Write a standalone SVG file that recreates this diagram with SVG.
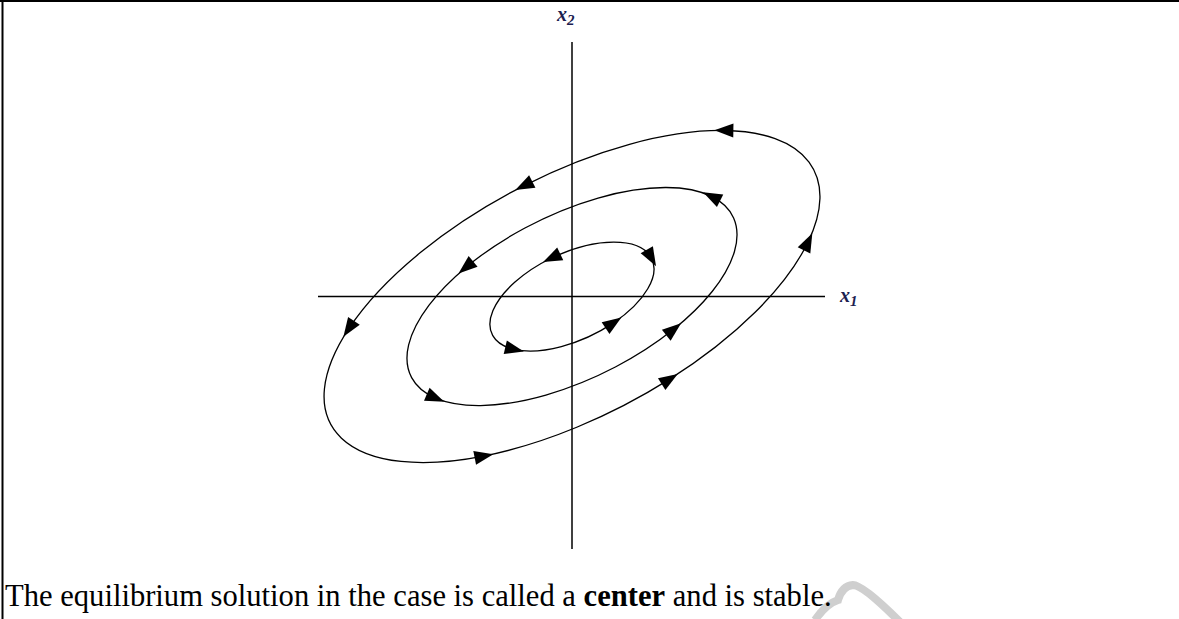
<svg xmlns="http://www.w3.org/2000/svg" width="1179" height="619" viewBox="0 0 1179 619">
<style>
.orbit{fill:none;stroke:#000;stroke-width:1.3}
.axis{stroke:#000;stroke-width:1.5}
.lab{font-family:"Liberation Serif",serif;font-style:italic;font-weight:bold;font-size:20px;fill:#1c2150}
.sub{font-size:15px}
.cap{font-family:"Liberation Serif",serif;font-size:30.6px;fill:#000}
</style>
<defs>
<marker id="arr" markerUnits="userSpaceOnUse" markerWidth="20" markerHeight="14" refX="0" refY="0" orient="auto" overflow="visible">
<path d="M10,0 L-9,-7 L-9,7 Z" fill="#000"/>
</marker>
<marker id="arrRev" markerUnits="userSpaceOnUse" markerWidth="20" markerHeight="14" refX="0" refY="0" orient="auto" overflow="visible">
<path d="M-10,0 L9,-7 L9,7 Z" fill="#000"/>
</marker>
</defs>
<rect width="1179" height="619" fill="#fff"/>
<g id="frame">
<line x1="0" y1="1" x2="1179" y2="1" stroke="#000" stroke-width="2"/>
<line x1="2.5" y1="0" x2="2.5" y2="619" stroke="#000" stroke-width="2"/>
</g>
<g id="axes">
<line class="axis" x1="572" y1="42" x2="572" y2="549"/>
<line class="axis" x1="318" y1="296.5" x2="825" y2="296.5"/>
</g>
<g id="labels">
<text class="lab" x="557" y="21">x<tspan class="sub" dy="4">2</tspan></text>
<text class="lab" x="840" y="302">x<tspan class="sub" dy="4">1</tspan></text>
</g>
<g id="connectors">
<g id="orbit-outer" transform="translate(572 296.5) rotate(-27.8)">
<path class="orbit" marker-mid="url(#arr)" marker-end="url(#arr)" d="M212.2,-75.8 A273 120.5 0 0 0 9.5,-120.4 A273 120.5 0 0 0 -212.2,-75.8 A273 120.5 0 0 0 -152.7,99.9 A273 120.5 0 0 0 47.4,118.7 A273 120.5 0 0 0 234.0,62.1 A273 120.5 0 0 0 212.2,-75.8"/>
</g>
<g id="orbit-middle" transform="translate(572 296.5) rotate(-26.5)">
<path class="orbit" marker-mid="url(#arr)" marker-end="url(#arr)" d="M169.9,-26.9 A179.7 82.5 0 0 0 -81.6,-73.5 A179.7 82.5 0 0 0 -167.8,29.6 A179.7 82.5 0 0 0 75.9,74.8 A179.7 82.5 0 0 0 169.9,-26.9"/>
</g>
<g id="orbit-inner" transform="translate(572 296.5) rotate(-25.2)">
<path class="orbit" marker-start="url(#arrRev)" marker-mid="url(#arr)" d="M88.2,-1.5 A88.3 43.5 0 0 0 -1.5,-43.5 A88.3 43.5 0 0 0 -74.9,23.1 A88.3 43.5 0 0 0 25.8,41.6 A88.3 43.5 0 0 0 88.2,-1.5"/>
</g>
</g>
<path id="watermark" d="M815,620 Q826,604 838,600 Q842,586 853,585 Q863,585 900,622" fill="none" stroke="#cfcfcf" stroke-width="8"/>
<text class="cap" x="5" y="606">The equilibrium solution in the case is called a <tspan font-weight="bold">center</tspan> and is stable.</text>
</svg>
